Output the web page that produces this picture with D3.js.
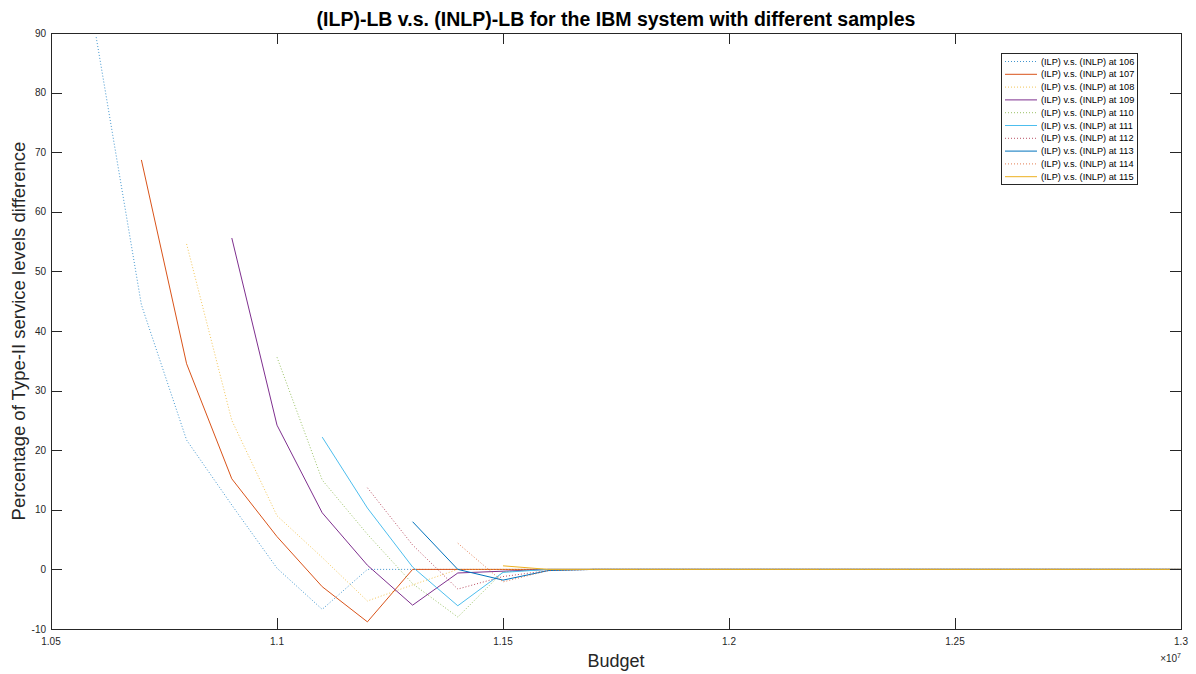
<!DOCTYPE html>
<html>
<head>
<meta charset="utf-8">
<script src="https://cdn.jsdelivr.net/npm/d3@7"></script>
<style>
  body { margin: 0; background: #fff; }
  text { font-family: "Liberation Sans", Arial, Helvetica, sans-serif; }
</style>
</head>
<body>
<div id="chart"></div>
<script>
// (ILP)-LB vs (INLP)-LB line chart

const width = 1196
const height = 674
const margin = { top: 33, right: 15, bottom: 45, left: 51 }

// budget values (x axis), every series ends at the last one
const budget = [
  10600000, 10700000, 10800000, 10900000, 11000000, 11100000, 11200000, 11300000,
  11400000, 11500000, 11600000, 11700000, 11800000, 11900000, 12000000, 12100000,
  12200000, 12300000, 12400000, 12500000, 12600000, 12700000, 12800000, 12900000, 13000000
]

const xTicks = [10500000, 11000000, 11500000, 12000000, 12500000, 13000000]
const yTicks = [-10, 0, 10, 20, 30, 40, 50, 60, 70, 80, 90]

const samples = [106, 107, 108, 109, 110, 111, 112, 113, 114, 115]

// values per sample, starting at budget[budget.length - values.length]
const s106 = [89.3, 44.4, 21.7, 10.8, 0.2, -6.7, 0, 0, 0, 0, 0, 0, 0, 0, 0, 0, 0, 0, 0, 0, 0, 0, 0, 0, 0]
const s107 = [68.7, 34.5, 15.2, 5.5, -2.9, -8.8, 0, 0, 0, 0, 0, 0, 0, 0, 0, 0, 0, 0, 0, 0, 0, 0, 0, 0]
const s108 = [54.6, 25.0, 9.0, 2.0, -5.3, -2.6, 0, 0, 0, 0, 0, 0, 0, 0, 0, 0, 0, 0, 0, 0, 0, 0, 0]
const s109 = [55.6, 24.2, 9.5, 0.7, -6.0, -0.6, -0.3, 0, 0, 0, 0, 0, 0, 0, 0, 0, 0, 0, 0, 0, 0, 0]
const s110 = [35.6, 15.0, 5.9, -2.4, -8.0, -0.4, 0, 0, 0, 0, 0, 0, 0, 0, 0, 0, 0, 0, 0, 0, 0]
const s111 = [22.2, 10.3, 0.4, -6.1, -0.5, 0, 0, 0, 0, 0, 0, 0, 0, 0, 0, 0, 0, 0, 0, 0]
const s112 = [13.7, 4.1, -3.3, -1.2, -0.2, 0, 0, 0, 0, 0, 0, 0, 0, 0, 0, 0, 0, 0, 0]
const s113 = [8.0, 0.0, -1.8, -0.2, 0, 0, 0, 0, 0, 0, 0, 0, 0, 0, 0, 0, 0, 0]
const s114 = [4.4, -2.1, -0.2, 0, 0, 0, 0, 0, 0, 0, 0, 0, 0, 0, 0, 0, 0]
const s115 = [0.6, 0.0, 0, 0, 0, 0, 0, 0, 0, 0, 0, 0, 0, 0, 0, 0]

const values = [s106, s107, s108, s109, s110, s111, s112, s113, s114, s115]

// matlab default colour order, dotted / solid alternating
const colors = ['#0072BD', '#D95319', '#EDB120', '#7E2F8E', '#77AC30',
  '#4DBEEE', '#A2142F', '#0072BD', '#D95319', '#EDB120']
const dotted = [true, false, true, false, true, false, true, false, true, false]

const svg = d3.select('#chart').append('svg')
  .attr('width', width).attr('height', height)

const x = d3.scaleLinear().domain([10500000, 13000000]).range([margin.left, width - margin.right])
const y = d3.scaleLinear().domain([-10, 90]).range([height - margin.bottom, margin.top])

const axisColor = '#262626'
const tickLen = 11
const x0 = margin.left
const x1 = width - margin.right
const y0 = height - margin.bottom
const y1 = margin.top

// lines
const line = d3.line().x(d => x(d[0])).y(d => y(d[1]))
const series = values.map((v, k) => {
  const off = budget.length - v.length
  return { name: samples[k], pts: v.map((d, i) => [budget[off + i], d]) }
})

svg.append('g').attr('class', 'lines')
  .selectAll('path')
  .data(series)
  .join('path')
  .attr('d', d => line(d.pts))
  .attr('fill', 'none')
  .attr('stroke', (d, i) => colors[i])
  .attr('stroke-width', 1)
  .attr('stroke-opacity', (d, i) => dotted[i] ? 0.75 : 1)
  .attr('stroke-dasharray', (d, i) => dotted[i] ? '1,2' : null)
  .attr('stroke-linejoin', 'round')

// box
const ag = svg.append('g').attr('class', 'axes')
ag.append('rect').attr('x', x0 + 0.5).attr('y', y1 + 0.5)
  .attr('width', x1 - x0).attr('height', y0 - y1)
  .attr('fill', 'none').attr('stroke', axisColor).attr('stroke-width', 1)

// ticks, inward on all four sides
ag.selectAll('line.xt')
  .data(xTicks.flatMap(t => [[t, y0, y0 - tickLen], [t, y1, y1 + tickLen]]))
  .join('line').attr('class', 'xt')
  .attr('x1', d => Math.round(x(d[0])) + 0.5).attr('x2', d => Math.round(x(d[0])) + 0.5)
  .attr('y1', d => d[1]).attr('y2', d => d[2])
  .attr('stroke', axisColor)

ag.selectAll('line.yt')
  .data(yTicks.flatMap(t => [[t, x0, x0 + tickLen], [t, x1, x1 - tickLen]]))
  .join('line').attr('class', 'yt')
  .attr('y1', d => Math.round(y(d[0])) + 0.5).attr('y2', d => Math.round(y(d[0])) + 0.5)
  .attr('x1', d => d[1]).attr('x2', d => d[2])
  .attr('stroke', axisColor)

// tick labels
ag.selectAll('text.xl')
  .data(xTicks)
  .join('text').attr('class', 'xl')
  .attr('x', d => x(d)).attr('y', y0 + 16)
  .attr('text-anchor', 'middle').attr('fill', axisColor).style('font-size', '10px')
  .text(d => +(d / 1e7).toFixed(2))

ag.selectAll('text.yl')
  .data(yTicks)
  .join('text').attr('class', 'yl')
  .attr('x', x0 - 5).attr('y', d => y(d) + 3.5)
  .attr('text-anchor', 'end').attr('fill', axisColor).style('font-size', '10px')
  .text(d => d)

// exponent label
const ex = svg.append('text').attr('x', x1).attr('y', 662)
  .attr('text-anchor', 'end').attr('fill', axisColor).style('font-size', '10px')
ex.append('tspan').text('\u00d710')
ex.append('tspan').attr('dy', -4).style('font-size', '7px').text('7')

// titles
svg.append('text').attr('x', (x0 + x1) / 2).attr('y', 26)
  .attr('text-anchor', 'middle').style('font-weight', 'bold').style('font-size', '19.5px')
  .attr('fill', '#000')
  .text('(ILP)-LB v.s. (INLP)-LB for the IBM system with different samples')

svg.append('text').attr('x', (x0 + x1) / 2).attr('y', 667)
  .attr('text-anchor', 'middle').style('font-size', '18px').attr('fill', axisColor)
  .text('Budget')

svg.append('text')
  .attr('transform', 'translate(25,' + ((y0 + y1) / 2) + ') rotate(-90)')
  .attr('text-anchor', 'middle').style('font-size', '18.5px').attr('fill', axisColor)
  .text('Percentage of Type-II service levels difference')

// legend
const lg = svg.append('g').attr('class', 'legend')
lg.append('rect').attr('x', 1001.5).attr('y', 53.5).attr('width', 136).attr('height', 131)
  .attr('fill', '#fff').attr('stroke', axisColor).attr('stroke-width', 1)

const items = lg.selectAll('g.item')
  .data(series)
  .join('g')
  .attr('class', 'item')
  .attr('transform', (d, i) => 'translate(0,' + (61.5 + i * 12.8) + ')')

items.append('line')
  .attr('x1', 1005).attr('x2', 1037).attr('y1', 0).attr('y2', 0)
  .attr('stroke', (d, i) => colors[i]).attr('stroke-width', 1)
  .attr('stroke-opacity', (d, i) => dotted[i] ? 0.75 : 1)
  .attr('stroke-dasharray', (d, i) => dotted[i] ? '1,2' : null)

items.append('text')
  .attr('x', 1041).attr('y', 3)
  .style('font-size', '9.2px').attr('fill', '#000')
  .text(d => '(ILP) v.s. (INLP) at ' + d.name)
</script>
</body>
</html>
